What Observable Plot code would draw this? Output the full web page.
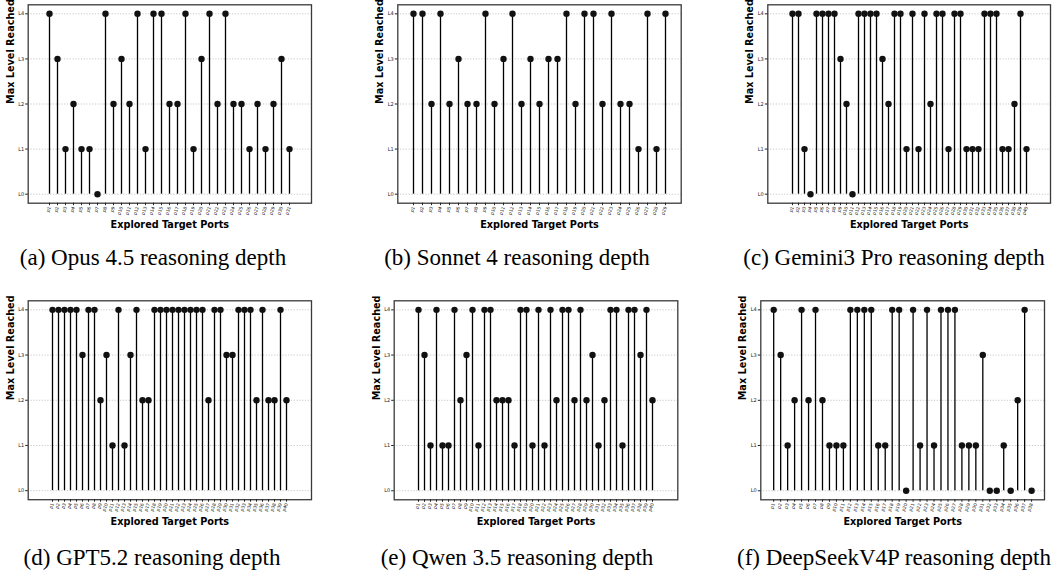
<!DOCTYPE html>
<html><head><meta charset="utf-8">
<script src="https://cdn.jsdelivr.net/npm/d3@7"></script>
<script src="https://cdn.jsdelivr.net/npm/@observablehq/plot@0.6"></script>
<style>
body{margin:0;background:#fff;}
#wrap{position:relative;width:1055px;height:575px;overflow:hidden;background:#fff;}
.panel{position:absolute;}
.cap{position:absolute;font-family:"Liberation Serif","Times New Roman",serif;font-size:23px;white-space:nowrap;transform:translateX(-50%);line-height:1;color:#000;}
</style></head><body><div id="wrap"></div>
<script>
// ---- data ----
const levelTicks = [0, 1, 2, 3, 4];
const levelLabels = ["L0", "L1", "L2", "L3", "L4"];
const xLabel = "Explored Target Ports";
const yLabel = "Max Level Reached";

const opusLevels = [4,3,1,2,1,1,0,4,2,3,2,4,1,4,4,2,2,4,1,3,4,2,4,2,2,1,2,1,2,3,1];
const sonnetLevels = [4,4,2,4,2,3,2,2,4,2,3,4,2,3,2,3,3,4,2,4,4,2,4,2,2,1,4,1,4];
const geminiLevels = [4,4,1,0,4,4,4,4,3,2,0,4,4,4,4,3,2,4,4,1,4,1,4,2,4,4,1,4,4,1,1,1,4,4,4,1,1,2,4,1];
const gptLevels = [4,4,4,4,4,3,4,4,2,3,1,4,1,3,4,2,2,4,4,4,4,4,4,4,4,4,2,4,4,3,3,4,4,4,2,4,2,2,4,2];
const qwenLevels = [4,3,1,4,1,1,4,2,3,4,1,4,4,2,2,2,1,4,4,1,4,1,4,2,4,4,2,4,2,3,1,2,4,4,1,4,4,3,4,2];
const deepseekLevels = [4,3,1,2,4,2,4,2,1,1,1,4,4,4,4,1,1,4,4,0,4,1,4,1,4,4,4,1,1,1,3,0,0,1,0,2,4,0];

const captions = [
  "(a) Opus 4.5 reasoning depth",
  "(b) Sonnet 4 reasoning depth",
  "(c) Gemini3 Pro reasoning depth",
  "(d) GPT5.2 reasoning depth",
  "(e) Qwen 3.5 reasoning depth",
  "(f) DeepSeekV4P reasoning depth"
];
const seriesList = [opusLevels, sonnetLevels, geminiLevels, gptLevels, qwenLevels, deepseekLevels];

// ---- layout (page px) ----
const layout = [
  {left: 0,   top: 0,   w: 320, h: 240, fl: 27.7,  fr: 311,   ft: 4.3,   fb: 202.7},
  {left: 360, top: 0,   w: 330, h: 240, fl: 397.3, fr: 680.7, ft: 4.3,   fb: 202.7},
  {left: 725, top: 0,   w: 330, h: 240, fl: 767.3, fr: 1050,  ft: 4.3,   fb: 202.7},
  {left: 0,   top: 290, w: 320, h: 240, fl: 27.7,  fr: 311,   ft: 300.3, fb: 499.2},
  {left: 360, top: 290, w: 330, h: 240, fl: 393.7, fr: 677.3, ft: 300.3, fb: 499.3},
  {left: 725, top: 290, w: 330, h: 240, fl: 760.3, fr: 1044,  ft: 300.3, fb: 499.3}
];
const capPos = [
  {x: 153, y: 246}, {x: 517, y: 246}, {x: 894, y: 246},
  {x: 152, y: 545.5}, {x: 517, y: 545.5}, {x: 894, y: 545.5}
];

const wrap = document.getElementById("wrap");

seriesList.forEach((levels, k) => {
  const L = layout[k];
  const ports = levels.map((_, i) => "p" + (i + 1));
  const data = levels.map((v, i) => ({port: ports[i], level: v}));
  const n = ports.length;
  const chart = Plot.plot({
    width: L.w,
    height: L.h,
    marginLeft: L.fl - L.left,
    marginRight: L.left + L.w - L.fr,
    marginTop: L.ft - L.top,
    marginBottom: L.top + L.h - L.fb,
    style: {fontFamily: "DejaVu Sans", background: "white", color: "#222", overflow: "visible"},
    x: {type: "point", domain: ports, padding: 0.05 * (n - 1)},
    y: {domain: [-0.2, 4.2]},
    marks: [
      Plot.gridY(levelTicks, {stroke: "#c8c8c8", strokeOpacity: 1, strokeWidth: 1, strokeDasharray: "1.2,1.6"}),
      Plot.ruleX(data, {x: "port", y1: 0, y2: "level", stroke: "#000", strokeWidth: 1.3}),
      Plot.dot(data, {x: "port", y: "level", r: 3.2, fill: "#111", stroke: "none"}),
      Plot.frame({stroke: "#3a3a3a", strokeWidth: 1.3}),
      Plot.axisY({ticks: levelTicks, tickFormat: d => levelLabels[d], tickSize: 2.5, tickPadding: 1.5, fontSize: 5, label: null}),
      Plot.axisX({tickRotate: -70, tickSize: 2.5, tickPadding: 1, fontSize: 4.5, label: null}),
      Plot.text([xLabel], {frameAnchor: "bottom", dy: 22, text: d => d, fontSize: 9.7, fontWeight: "bold", fill: "#000", lineAnchor: "middle"}),
      Plot.text([yLabel], {frameAnchor: "left", dx: -17.5, rotate: -90, text: d => d, fontSize: 9.7, fontWeight: "bold", fill: "#000", lineAnchor: "middle"})
    ]
  });
  chart.classList.add("panel");
  chart.style.left = L.left + "px";
  chart.style.top = L.top + "px";
  wrap.appendChild(chart);

  const cap = document.createElement("div");
  cap.className = "cap";
  cap.textContent = captions[k];
  cap.style.left = capPos[k].x + "px";
  cap.style.top = capPos[k].y + "px";
  wrap.appendChild(cap);
});
</script>
</body></html>
